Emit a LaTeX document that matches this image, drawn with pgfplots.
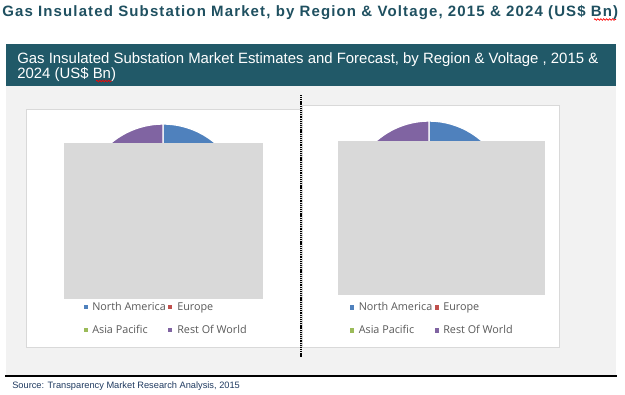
\documentclass[border=0pt]{standalone}
\usepackage{pgfplots}
\pgfplotsset{compat=1.18}
\usepackage{pgfplotstable}
\usepackage{fontspec}
\setmainfont{Liberation Sans}
\newfontfamily\legfont{Open Sans}
\newfontfamily\titlefont[LetterSpace=7.5]{Liberation Sans}
\usetikzlibrary{decorations.pathmorphing}
\definecolor{bannercol}{HTML}{215968}
\definecolor{titlecol}{HTML}{1F5060}
\definecolor{srccol}{HTML}{1F3A60}
\definecolor{bgcol}{HTML}{F2F2F2}
\definecolor{panelborder}{HTML}{D9D9D9}
\definecolor{cover}{HTML}{D9D9D9}
\definecolor{legtext}{HTML}{595959}
\definecolor{cNA}{HTML}{4F81BD}
\definecolor{cEU}{HTML}{C0504D}
\definecolor{cAP}{HTML}{9BBB59}
\definecolor{cRW}{HTML}{8064A2}

% share of market by region (%)
\pgfplotstableread{
region y2015 y2024
NA 19 18
EU 24 22
AP 42 46
RW 15 14
}\pietable

\begin{document}
\begin{tikzpicture}[x=0.75pt,y=-0.75pt]
\useasboundingbox (0,0) rectangle (625,394);
% angles
\pgfplotstablegetelem{0}{y2015}\of\pietable \edef\La{\pgfplotsretval}
\pgfplotstablegetelem{1}{y2015}\of\pietable \edef\Lb{\pgfplotsretval}
\pgfplotstablegetelem{2}{y2015}\of\pietable \edef\Lc{\pgfplotsretval}
\pgfplotstablegetelem{3}{y2015}\of\pietable \edef\Ld{\pgfplotsretval}
\pgfplotstablegetelem{0}{y2024}\of\pietable \edef\Ra{\pgfplotsretval}
\pgfplotstablegetelem{1}{y2024}\of\pietable \edef\Rb{\pgfplotsretval}
\pgfplotstablegetelem{2}{y2024}\of\pietable \edef\Rc{\pgfplotsretval}
\pgfplotstablegetelem{3}{y2024}\of\pietable \edef\Rd{\pgfplotsretval}
\pgfmathsetmacro\LeA{90-3.6*\La}
\pgfmathsetmacro\LeB{\LeA-3.6*\Lb}
\pgfmathsetmacro\LeC{\LeB-3.6*\Lc}
\pgfmathsetmacro\LeD{\LeC-3.6*\Ld}
\pgfmathsetmacro\ReA{90-3.6*\Ra}
\pgfmathsetmacro\ReB{\ReA-3.6*\Rb}
\pgfmathsetmacro\ReC{\ReB-3.6*\Rc}
\pgfmathsetmacro\ReD{\ReC-3.6*\Rd}

% title
\node[anchor=base west, inner sep=0, text=titlecol, font=\titlefont\bfseries\fontsize{11.25pt}{13pt}\selectfont] at (2,16.7)
 {Gas Insulated Substation Market, by Region \& Voltage, 2015 \& 2024 (US\$ Bn)};
\draw[red, line width=0.5pt, decorate, decoration={snake, amplitude=0.6pt, segment length=2.2pt}] (594,19.5) -- (616,19.5);

% banner
\fill[bannercol] (6,44) rectangle (616,86);
\node[anchor=base west, inner sep=0, text=white, font=\fontsize{11.2pt}{12pt}\selectfont] at (17,63)
 {Gas Insulated Substation Market Estimates and Forecast, by Region \& Voltage , 2015 \&};
\node[anchor=base west, inner sep=0, text=white, font=\fontsize{11.2pt}{12pt}\selectfont] at (17,78)
 {2024 (US\$ Bn)};
\draw[red, line width=0.5pt, decorate, decoration={snake, amplitude=0.6pt, segment length=2.2pt}] (96,81) -- (112,81);

% background
\fill[bgcol] (6,86) rectangle (616,375);
\draw[black, line width=2.2pt] (5,376) -- (617,376);
\node[anchor=base west, inner sep=0, text=srccol, font=\fontsize{6.95pt}{8pt}\selectfont] at (12,388.5)
 {Source: Transparency Market Research Analysis, 2015};

% panels
\filldraw[fill=white, draw=panelborder, line width=0.75pt] (26,109) rectangle (300,347);
\filldraw[fill=white, draw=panelborder, line width=0.75pt] (302,105) rectangle (559,347);
\draw[black, line width=0.8pt, dash pattern=on 0.8pt off 0.6pt] (301,95) -- (301,358);

\coordinate (pcL) at (163,205);
\coordinate (pcR) at (429,201);

\begin{axis}[at={(pcL)}, anchor=center, hide axis, scale only axis,
  width=121.5pt, height=121.5pt, xmin=-1, xmax=1, ymin=-1, ymax=1, clip=false]
\addplot[draw=none] coordinates {(-1,-1) (1,1)};
\filldraw[fill=cNA, draw=white, line width=1pt] (axis cs:0,0) -- (axis cs:{cos(90)},{sin(90)}) arc[start angle=90, end angle=\LeA, radius=1] -- cycle;
\filldraw[fill=cEU, draw=white, line width=1pt] (axis cs:0,0) -- (axis cs:{cos(\LeA)},{sin(\LeA)}) arc[start angle=\LeA, end angle=\LeB, radius=1] -- cycle;
\filldraw[fill=cAP, draw=white, line width=1pt] (axis cs:0,0) -- (axis cs:{cos(\LeB)},{sin(\LeB)}) arc[start angle=\LeB, end angle=\LeC, radius=1] -- cycle;
\filldraw[fill=cRW, draw=white, line width=1pt] (axis cs:0,0) -- (axis cs:{cos(\LeC)},{sin(\LeC)}) arc[start angle=\LeC, end angle=\LeD, radius=1] -- cycle;
\end{axis}

\begin{axis}[at={(pcR)}, anchor=center, hide axis, scale only axis,
  width=120pt, height=120pt, xmin=-1, xmax=1, ymin=-1, ymax=1, clip=false]
\addplot[draw=none] coordinates {(-1,-1) (1,1)};
\filldraw[fill=cNA, draw=white, line width=1pt] (axis cs:0,0) -- (axis cs:{cos(90)},{sin(90)}) arc[start angle=90, end angle=\ReA, radius=1] -- cycle;
\filldraw[fill=cEU, draw=white, line width=1pt] (axis cs:0,0) -- (axis cs:{cos(\ReA)},{sin(\ReA)}) arc[start angle=\ReA, end angle=\ReB, radius=1] -- cycle;
\filldraw[fill=cAP, draw=white, line width=1pt] (axis cs:0,0) -- (axis cs:{cos(\ReB)},{sin(\ReB)}) arc[start angle=\ReB, end angle=\ReC, radius=1] -- cycle;
\filldraw[fill=cRW, draw=white, line width=1pt] (axis cs:0,0) -- (axis cs:{cos(\ReC)},{sin(\ReC)}) arc[start angle=\ReC, end angle=\ReD, radius=1] -- cycle;
\end{axis}

% cover images
\fill[cover] (64,143) rectangle (263,299);
\fill[cover] (338,141) rectangle (545,295);

% legends
\foreach \x/\tx/\ty/\c/\t in {86/92/310/cNA/North America, 170/177/310/cEU/Europe, 86/92/333/cAP/Asia Pacific, 170/177/333/cRW/Rest Of World,
  352/358.5/310.5/cNA/North America, 437/443/310.5/cEU/Europe, 352/358.5/333.5/cAP/Asia Pacific, 437/443/333.5/cRW/Rest Of World}{
  \fill[\c] (\x-2.3,\ty-5.5) rectangle (\x+2.3,\ty-0.9);
  \node[anchor=base west, inner sep=0, text=legtext, font=\legfont\fontsize{8.1pt}{10pt}\selectfont] at (\tx,\ty) {\t};
}
\end{tikzpicture}
\end{document}
